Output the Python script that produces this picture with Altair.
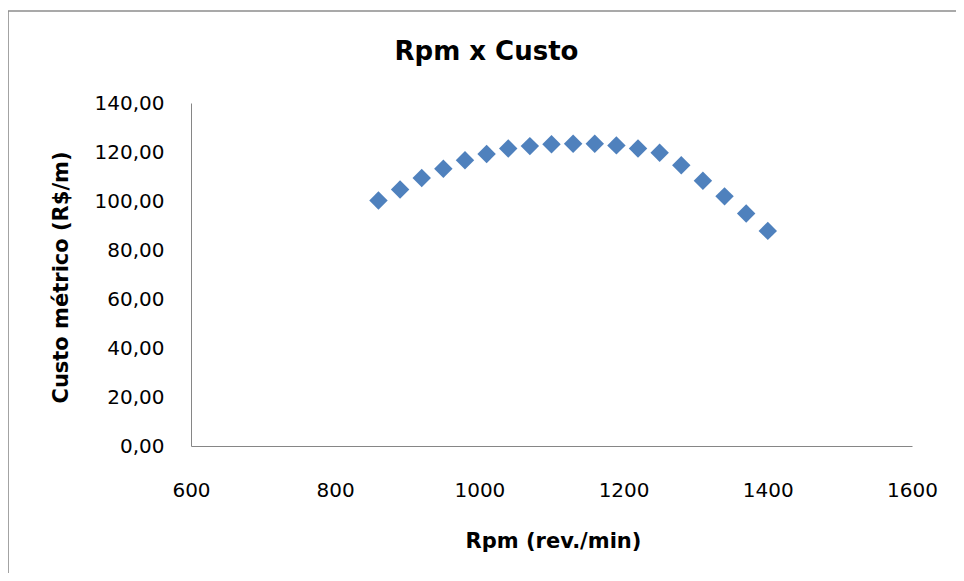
import altair as alt
import pandas as pd

rpm = [860, 890, 920, 950, 980, 1010, 1040, 1070, 1100, 1130,
       1160, 1190, 1220, 1250, 1280, 1310, 1340, 1370, 1400]
custo = [100.2, 104.7, 109.4, 113.2, 116.6, 119.2, 121.4, 122.4, 123.2, 123.4,
         123.4, 122.7, 121.4, 119.7, 114.6, 108.3, 101.9, 94.9, 87.8]
x_ticks = [600, 800, 1000, 1200, 1400, 1600]
y_ticks = [0, 20, 40, 60, 80, 100, 120, 140]

df = pd.DataFrame({"rpm": rpm, "custo": custo})

FONT = "DejaVu Sans"
W, H = 721, 343

points = alt.Chart(df).mark_point(
    shape="diamond", filled=True, size=340, color="#4f81bd", opacity=1
).encode(
    x=alt.X("rpm:Q",
            scale=alt.Scale(domain=[600, 1600], nice=False, zero=False),
            axis=alt.Axis(values=x_ticks, format="d", title="Rpm (rev./min)", grid=False,
                          ticks=False, tickSize=0, labelPadding=34,
                          domainColor="#868686", labelFont=FONT, labelFontSize=20,
                          labelColor="#000000", labelFlush=False,
                          titleFont=FONT, titleFontSize=21, titleFontWeight="bold",
                          titleColor="#000000", titleX=362, titleY=95,
                          titleBaseline="middle", titleAlign="center")),
    y=alt.Y("custo:Q",
            scale=alt.Scale(domain=[0, 140], nice=False),
            axis=alt.Axis(values=y_ticks, title="Custo métrico (R$/m)", grid=False,
                          ticks=False, tickSize=0, labelPadding=27,
                          labelExpr="replace(format(datum.value, '.2f'), '.', ',')",
                          domainColor="#868686", labelFont=FONT, labelFontSize=20,
                          labelColor="#000000", labelFlush=False,
                          titleFont=FONT, titleFontSize=21, titleFontWeight="bold",
                          titleColor="#000000", titleX=-130, titleY=174,
                          titleBaseline="middle", titleAlign="center", titleAngle=-90)),
)

border_left = alt.Chart().mark_rule(color="#8c8c8c", strokeWidth=1.6).encode(
    x=alt.value(-183), y=alt.value(-92), y2=alt.value(700)
)
border_top = alt.Chart().mark_rule(color="#8c8c8c", strokeWidth=1.6).encode(
    x=alt.value(-183), x2=alt.value(900), y=alt.value(-92)
)

chart = alt.layer(border_left, border_top, points).properties(
    width=W, height=H,
    title=alt.TitleParams("Rpm x Custo", anchor="middle", dx=-65, offset=30, dy=85,
                          font=FONT, fontSize=26, fontWeight="bold", color="#000000"),
    autosize=alt.AutoSizeParams(type="none"),
    padding={"left": 183, "top": 95, "right": 44, "bottom": 127},
).configure(background="white").configure_view(stroke=None, strokeWidth=0)

chart.save("out.html", embed_options={"renderer": "svg", "actions": False})
